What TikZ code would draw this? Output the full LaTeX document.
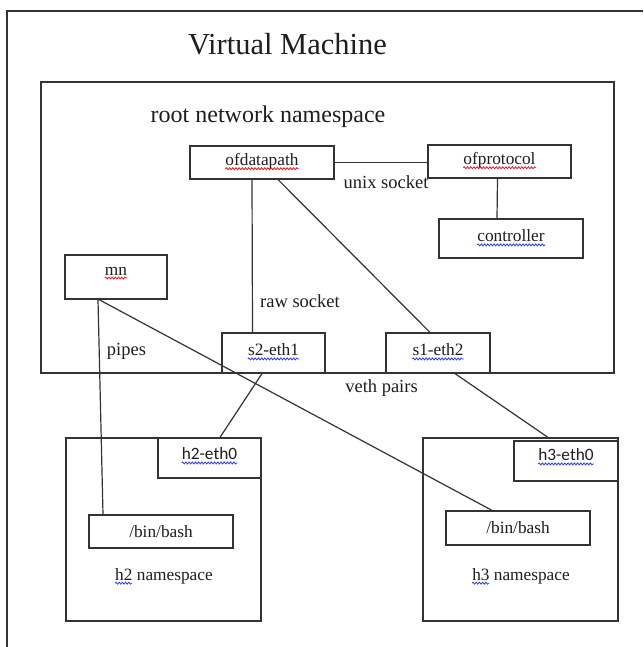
\documentclass[tikz,border=0pt]{standalone}
\usepackage{fontspec}
\setmainfont{Liberation Serif}
\newfontfamily\calfont{Carlito}
\usetikzlibrary{decorations.pathmorphing}
\definecolor{ink}{HTML}{1E1E1E}
\definecolor{frame}{HTML}{333333}
\definecolor{spellred}{HTML}{E0202A}
\definecolor{spellblue}{HTML}{2A40E0}
\tikzset{
  box/.style={draw=frame, line width=1.2pt, rectangle, inner sep=0pt},
  wire/.style={draw=frame, line width=1.2pt},
  lbl/.style={inner sep=0pt, text=ink, font=\fontsize{17.3}{20}\selectfont},
  note/.style={inner sep=0pt, text=ink, font=\fontsize{18.5}{22}\selectfont},
  squig/.style={draw=#1, line width=0.8pt, decorate,
    decoration={snake, amplitude=1pt, segment length=3.2pt}},
}
\begin{document}
\begin{tikzpicture}[x=1pt,y=-1pt]
\useasboundingbox (0,0) rectangle (643,647);
\fill[white] (0,0) rectangle (643,647);

% virtual machine frame (runs off the right and bottom edges)
\draw[frame, line width=1.3pt] (7,647) -- (7,11) -- (643,11);
\node[inner sep=0pt, text=ink, font=\fontsize{30.5}{34}\selectfont] (vm) at (287.5,44) {Virtual Machine};

% root network namespace
\node[box, minimum width=573pt, minimum height=291pt] (root) at (327.5,227.5) {};
\node[inner sep=0pt, text=ink, font=\fontsize{24}{28}\selectfont] (rootT) at (268,116.5) {root network namespace};

\node[box, minimum width=144pt, minimum height=33pt] (ofd) at (262,162.5) {};
\node[lbl] (ofdT) at (262,161.5) {ofdatapath};
\node[box, minimum width=143pt, minimum height=33pt] (ofp) at (499.5,161.5) {};
\node[lbl] (ofpT) at (499.5,160.5) {ofprotocol};
\node[box, minimum width=144pt, minimum height=39pt] (ctrl) at (511,238.5) {};
\node[lbl] (ctrlT) at (511,236) {controller};
\node[box, minimum width=102pt, minimum height=44pt] (mn) at (116,277) {};
\node[lbl] (mnT) at (116,271) {mn};
\node[box, minimum width=103pt, minimum height=40pt] (s2) at (273.5,353) {};
\node[lbl] (s2T) at (273.5,350) {s2-eth1};
\node[box, minimum width=104pt, minimum height=40pt] (s1) at (438,353) {};
\node[lbl] (s1T) at (438,350) {s1-eth2};

% host namespaces
\node[box, minimum width=195pt, minimum height=183pt] (h2ns) at (163.5,529.5) {};
\node[box, minimum width=103pt, minimum height=40pt] (h2eth) at (209.5,458) {};
\node[lbl, font=\calfont\fontsize{17.3}{20}\selectfont] (h2ethT) at (209.5,454) {h2-eth0};
\node[box, minimum width=144pt, minimum height=33pt, lbl, draw=frame, line width=1.2pt] (bash2) at (161,531.5) {/bin/bash};
\node[lbl] (h2nsT) at (164,576) {h2 namespace};

\node[box, minimum width=195pt, minimum height=183pt] (h3ns) at (520.5,529.5) {};
\node[box, minimum width=104pt, minimum height=40pt] (h3eth) at (566,461) {};
\node[lbl, font=\calfont\fontsize{17.3}{20}\selectfont] (h3ethT) at (566,455) {h3-eth0};
\node[box, minimum width=144pt, minimum height=34pt, lbl, draw=frame, line width=1.2pt] (bash3) at (518,528) {/bin/bash};
\node[lbl] (h3nsT) at (521,576) {h3 namespace};

% connector labels
\node[note] (unixT) at (386,182) {unix socket};
\node[note] (rawT) at (300,301) {raw socket};
\node[note] (pipesT) at (126.5,351) {pipes};
\node[note] (vethT) at (381.5,388) {veth pairs};

% connectors
\draw[wire] (ofd.east) -- (ofd.east -| ofp.west);
\draw[wire] ([xshift=-2pt]ofp.south) -- ([xshift=-14pt]ctrl.north);
\draw[wire] ([xshift=-10pt]ofd.south) -- ([xshift=-21pt]s2.north);
\draw[wire] ([xshift=16pt]ofd.south) -- ([xshift=-8pt]s1.north);
\draw[wire] ([xshift=-18pt]mn.south) -- ([xshift=-58pt]bash2.north);
\draw[wire] ([xshift=-17pt]mn.south) -- ([xshift=-26pt]bash3.north);
\draw[wire] ([xshift=-11.5pt]s2.south) -- ([xshift=10.5pt]h2eth.north);
\draw[wire] ([xshift=17pt]s1.south) -- ([xshift=-18pt,yshift=3pt]h3eth.north);

% spell-check underlines
\draw[squig=spellred] ([yshift=-3pt]ofdT.base west) -- ([yshift=-3pt]ofdT.base east);
\draw[squig=spellred] ([yshift=-3pt]ofpT.base west) -- ([yshift=-3pt]ofpT.base east);
\draw[squig=spellblue] ([yshift=-3pt]ctrlT.base west) -- ([yshift=-3pt]ctrlT.base east);
\draw[squig=spellred] ([yshift=-3pt]mnT.base west) -- ([yshift=-3pt]mnT.base east);
\draw[squig=spellblue] ([yshift=-3pt]s2T.base west) -- ([yshift=-3pt]s2T.base east);
\draw[squig=spellblue] ([yshift=-3pt]s1T.base west) -- ([yshift=-3pt]s1T.base east);
\draw[squig=spellblue] ([yshift=-3pt]h2ethT.base west) -- ([yshift=-3pt]h2ethT.base east);
\draw[squig=spellblue] ([yshift=-3pt]h3ethT.base west) -- ([yshift=-3pt]h3ethT.base east);
\draw[squig=spellblue] ([yshift=-3pt]h2nsT.base west) -- ([xshift=17pt,yshift=-3pt]h2nsT.base west);
\draw[squig=spellblue] ([yshift=-3pt]h3nsT.base west) -- ([xshift=17pt,yshift=-3pt]h3nsT.base west);
\end{tikzpicture}
\end{document}
